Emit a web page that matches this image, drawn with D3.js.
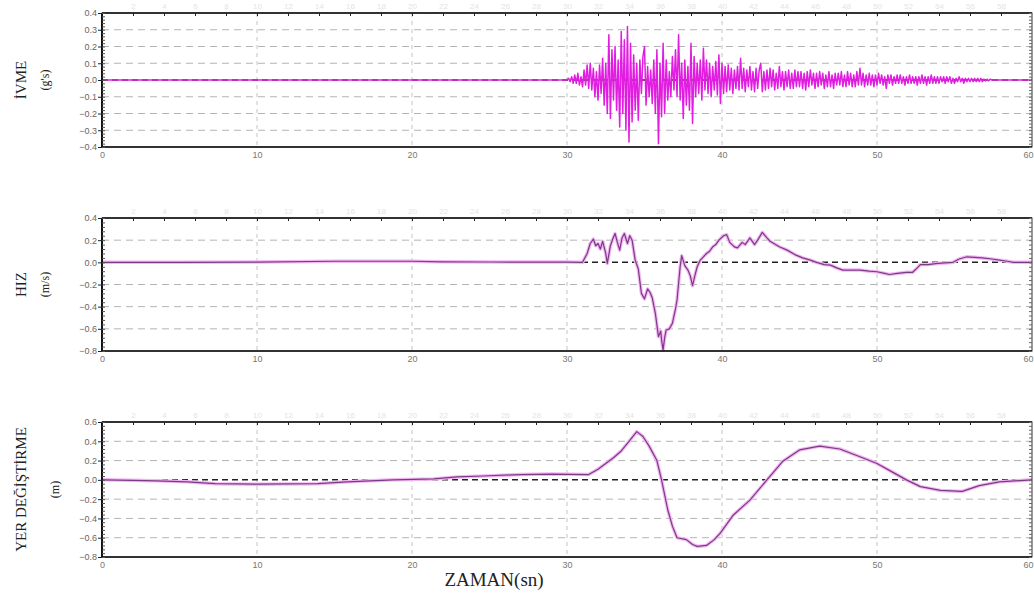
<!DOCTYPE html>
<html>
<head>
<meta charset="utf-8">
<script src="https://cdn.jsdelivr.net/npm/d3@7"></script>
<style>
  body { margin: 0; background: #fff; }
  svg { display: block; }
</style>
</head>
<body>
<svg width="1034" height="594"></svg>
<script>
// ---- data ----
// acceleration (g) sampled every 0.1 s starting at 30.0 s
const accStart = 30.0, accStep = 0.1;
const accValues = [
  0, 0.01, -0.01, 0.02, -0.02,   0.03, -0.02, 0.04, -0.03, 0.02,
  -0.04, 0.06, -0.03, 0.09, -0.05,   0.10, -0.06, 0.07, -0.10, 0.05,
  -0.12, 0.09, -0.08, 0.13, -0.15,   0.10, -0.20, 0.27, -0.23, 0.18,
  -0.12, 0.20, -0.18, 0.12, -0.28,   0.29, -0.20, 0.24, -0.30, 0.32,
  -0.37, 0.22, -0.25, 0.15, -0.18,   0.10, -0.24, 0.12, -0.08, 0.14,
  0.20, -0.15, 0.08, -0.10, 0.06,   -0.14, 0.12, -0.20, 0.18, -0.38,
  0.10, -0.22, 0.22, -0.20, 0.12,   -0.12, 0.05, -0.10, 0.14, -0.06,
  0.18, -0.10, 0.27, -0.12, 0.10,   -0.23, 0.12, -0.15, 0.08, -0.18,
  0.22, -0.26, 0.14, -0.10, 0.10,   -0.08, 0.12, -0.12, 0.19, -0.06,
  0.12, -0.08, 0.10, -0.10, 0.08,   -0.06, 0.11, -0.09, 0.15, -0.14,
  0.10, -0.08, 0.08, -0.07, 0.09,   -0.06, 0.07, -0.08, 0.06, -0.05,
  0.08, -0.06, 0.13, -0.05, 0.07,   -0.07, 0.06, -0.04, 0.08, -0.06,
  0.05, -0.07, 0.07, -0.05, 0.06,   0.10, -0.07, 0.05, -0.06, 0.06,
  -0.05, 0.07, -0.04, 0.06, -0.06,   0.04, -0.05, 0.08, -0.04, 0.05,
  -0.06, 0.05, -0.04, 0.06, -0.05,   0.04, -0.05, 0.06, -0.04, 0.05,
  -0.04, 0.05, -0.05, 0.04, -0.06,   0.05, -0.04, 0.06, -0.03, 0.04,
  -0.05, 0.04, -0.04, 0.05, -0.03,   0.04, -0.05, 0.03, -0.04, 0.05,
  -0.04, 0.03, -0.05, 0.04, -0.03,   0.04, -0.03, 0.05, -0.04, 0.03,
  -0.04, 0.05, -0.03, 0.04, -0.04,   0.03, -0.04, 0.05, -0.03, 0.07,
  -0.03, 0.04, -0.04, 0.03, -0.03,   0.04, -0.03, 0.03, -0.04, 0.03,
  -0.03, 0.04, -0.02, 0.03, -0.03,   0.02, -0.05, 0.03, -0.02, 0.03,
  -0.03, 0.02, -0.02, 0.03, -0.02,   0.03, -0.02, 0.02, -0.03, 0.02,
  -0.02, 0.03, -0.02, 0.02, -0.02,   0.02, -0.03, 0.02, -0.02, 0.03,
  -0.02, 0.02, -0.03, 0.02, -0.02,   0.03, -0.02, 0.02, -0.02, 0.02,
  -0.02, 0.02, -0.01, 0.02, -0.02,   0.02, -0.01, 0.02, -0.02, 0.01,
  -0.02, 0.01, -0.01, 0.02, -0.01,   0.01, -0.02, 0.01, -0.01, 0.01,
  -0.01, 0.01, -0.01, 0.01, -0.01,   0.01, -0.01, 0.01, -0.01, 0.005,
  -0.005, 0.005, -0.005, 0.005, 0,   0, 0, 0, 0
];

// velocity (m/s): [time, value]
const velPoints = [
  [0,0],[5,0],[10,0.002],[15,0.01],[20,0.01],[22,0.005],[25,0.003],[30,0.002],[31,0],
  [31.3,0.08],[31.5,0.17],[31.7,0.21],[31.85,0.15],[32,0.17],[32.15,0.12],[32.3,0.19],
  [32.5,0.08],[32.6,-0.01],[32.8,0.15],[32.95,0.21],[33.1,0.26],[33.25,0.18],[33.4,0.11],
  [33.55,0.22],[33.7,0.26],[33.9,0.17],[34.05,0.24],[34.2,0.2],[34.4,0.02],[34.6,-0.06],
  [34.8,-0.28],[35.0,-0.33],[35.2,-0.24],[35.35,-0.27],[35.5,-0.32],[35.7,-0.46],[35.9,-0.67],
  [36.05,-0.62],[36.1,-0.70],[36.2,-0.79],[36.3,-0.68],[36.4,-0.61],[36.6,-0.6],[36.8,-0.55],
  [37.0,-0.42],[37.1,-0.34],[37.3,-0.04],[37.4,0.06],[37.6,-0.03],[37.8,-0.07],[37.95,-0.12],
  [38.1,-0.21],[38.25,-0.12],[38.4,-0.04],[38.6,0.02],[38.8,0.05],[39,0.08],[39.2,0.1],
  [39.4,0.14],[39.6,0.16],[39.8,0.2],[40.1,0.24],[40.3,0.25],[40.5,0.18],[40.8,0.14],
  [41.0,0.13],[41.3,0.18],[41.5,0.16],[41.8,0.22],[42.1,0.16],[42.3,0.2],[42.6,0.27],
  [42.9,0.22],[43.1,0.19],[43.7,0.14],[44.2,0.11],[44.7,0.07],[45.2,0.04],[45.7,0.02],
  [46.1,0],[46.6,-0.02],[47.0,-0.025],[47.4,-0.05],[47.8,-0.07],[48.4,-0.07],[48.9,-0.07],
  [49.5,-0.08],[50,-0.085],[50.5,-0.1],[50.8,-0.11],[51.3,-0.1],[51.9,-0.09],[52.3,-0.09],
  [52.6,-0.05],[52.8,-0.02],[53.3,-0.02],[53.9,-0.01],[54.4,-0.005],[54.9,0],[55.3,0.03],
  [55.8,0.05],[56.3,0.045],[56.8,0.04],[57.4,0.03],[57.9,0.02],[58.4,0.01],[58.8,0],[60,0]
];

// displacement (m): [time, value]
const dispPoints = [
  [0,0],[2,-0.005],[3.5,-0.01],[5.5,-0.02],[7.3,-0.04],[10,-0.045],[13.9,-0.04],[15.8,-0.02],
  [18.8,0],[21.4,0.01],[22.9,0.03],[24.6,0.04],[27,0.055],[29,0.06],[31.4,0.055],[32,0.11],
  [32.5,0.17],[33,0.23],[33.5,0.3],[34,0.4],[34.5,0.5],[34.9,0.45],[35.3,0.35],[35.8,0.2],
  [36.1,0],[36.5,-0.31],[36.8,-0.48],[37.1,-0.6],[37.7,-0.62],[38.1,-0.67],[38.4,-0.69],
  [39,-0.68],[39.5,-0.62],[39.9,-0.55],[40.7,-0.37],[41.8,-0.21],[42.9,0],[43.9,0.19],
  [45,0.31],[46.3,0.35],[47.6,0.32],[48.9,0.24],[50,0.17],[51,0.08],[51.9,0],[52.8,-0.07],
  [54.1,-0.11],[55.5,-0.12],[56.6,-0.06],[57.9,-0.02],[60,0]
];

const xTicks   = [0, 10, 20, 30, 40, 50, 60];
const accTicks  = [-0.4, -0.3, -0.2, -0.1, 0.0, 0.1, 0.2, 0.3, 0.4];
const velTicks  = [-0.8, -0.6, -0.4, -0.2, 0.0, 0.2, 0.4];
const dispTicks = [-0.8, -0.6, -0.4, -0.2, 0.0, 0.2, 0.4, 0.6];

// acceleration as [t, a]; quiet before and after the strong motion
const accPoints = [[0, 0]].concat(
  accValues.map((v, i) => [accStart + i * accStep, v]),
  [[60, 0]]
);

const svg = d3.select("svg");
const x = d3.scaleLinear().domain([0, 60]).range([102, 1032]);

const panels = [
  { top: 13,  bottom: 147, ticks: accTicks,  minor: 0.02, title: "İVME", unit: "(g's)", unitX: 45,
    data: accPoints, fine: true },
  { top: 218, bottom: 351, ticks: velTicks,  minor: 0.04, title: "HIZ", unit: "(m/s)", unitX: 45,
    data: velPoints, fine: false },
  { top: 422, bottom: 557, ticks: dispTicks, minor: 0.04, title: "YER DEĞİŞTİRME", unit: "(m)", unitX: 55,
    data: dispPoints, fine: false }
];

panels.forEach(p => {
  const y = d3.scaleLinear().domain(d3.extent(p.ticks)).range([p.bottom, p.top]);
  const g = svg.append("g");
  const [x0, x1] = x.range();

  // horizontal dashed grid
  g.selectAll(".hgrid").data(p.ticks.filter(t => t !== 0 && t !== p.ticks[0] && t !== p.ticks[p.ticks.length - 1]))
    .enter().append("line")
    .attr("x1", x0).attr("x2", x1)
    .attr("y1", d => y(d)).attr("y2", d => y(d))
    .attr("stroke", "#b4b4b4").attr("stroke-width", 1).attr("stroke-dasharray", "7,5");

  // vertical dashed grid
  g.selectAll(".vgrid").data(xTicks.slice(1, -1))
    .enter().append("line")
    .attr("x1", d => x(d)).attr("x2", d => x(d))
    .attr("y1", p.top).attr("y2", p.bottom)
    .attr("stroke", "#c4c4c4").attr("stroke-width", 1).attr("stroke-dasharray", "4,4");

  // zero reference
  g.append("line")
    .attr("x1", x0).attr("x2", x1).attr("y1", y(0)).attr("y2", y(0))
    .attr("stroke", "#222").attr("stroke-width", 1.5).attr("stroke-dasharray", "6,4");

  // signal
  const line = d3.line().x(d => x(d[0])).y(d => y(d[1]));
  if (p.fine) {
    g.append("path").datum(p.data).attr("d", line)
      .attr("fill", "none").attr("stroke", "#e21de2").attr("stroke-width", 1.5)
      .attr("stroke-linejoin", "round");
  } else {
    g.append("path").datum(p.data).attr("d", line)
      .attr("fill", "none").attr("stroke", "#f2b6f2").attr("stroke-width", 3.5)
      .attr("stroke-linejoin", "round");
    g.append("path").datum(p.data).attr("d", line)
      .attr("fill", "none").attr("stroke", "#7c3a86").attr("stroke-width", 1.2)
      .attr("stroke-linejoin", "round");
  }

  // frame
  g.append("rect").attr("x", x0).attr("y", p.top)
    .attr("width", x1 - x0).attr("height", p.bottom - p.top)
    .attr("fill", "none").attr("stroke", "#333").attr("stroke-width", 1);
  g.append("line").attr("x1", x0).attr("x2", x0).attr("y1", p.top).attr("y2", p.bottom)
    .attr("stroke", "#111").attr("stroke-width", 2);
  g.append("line").attr("x1", x0).attr("x2", x1).attr("y1", p.bottom).attr("y2", p.bottom)
    .attr("stroke", "#111").attr("stroke-width", 1.5);
  g.append("line").attr("x1", x0).attr("x2", x1).attr("y1", p.top).attr("y2", p.top)
    .attr("stroke", "#111").attr("stroke-width", 1.5);

  // left axis: labels, major and minor ticks
  const minorTicks = d3.range(p.ticks[0], p.ticks[p.ticks.length - 1] + 1e-9, p.minor);
  g.append("g").attr("transform", `translate(${x0},0)`)
    .call(d3.axisLeft(y).tickValues(minorTicks).tickSize(-3).tickFormat(""))
    .call(a => a.select(".domain").remove())
    .call(a => a.selectAll("line").attr("stroke", "#555"));
  g.append("g").attr("transform", `translate(${x0},0)`)
    .call(d3.axisLeft(y).tickValues(p.ticks).tickSize(4).tickPadding(1).tickFormat(d3.format(".1f")))
    .call(a => a.select(".domain").remove())
    .call(a => a.selectAll("line").attr("stroke", "#222"))
    .call(a => a.selectAll("text").attr("fill", "#666")
      .style("font-family", "Liberation Sans, Arial, sans-serif").style("font-size", "9px"));

  // right edge minor ticks
  g.append("g").attr("transform", `translate(${x1},0)`)
    .call(d3.axisRight(y).tickValues(minorTicks).tickSize(-3).tickFormat(""))
    .call(a => a.select(".domain").remove())
    .call(a => a.selectAll("line").attr("stroke", "#666"));

  // bottom tick labels (last one pulled inside the page edge)
  g.append("g").attr("transform", `translate(0,${p.bottom})`)
    .call(d3.axisBottom(x).tickValues(xTicks).tickSize(0).tickPadding(5).tickFormat(d3.format("d")))
    .call(a => a.select(".domain").remove())
    .call(a => a.selectAll("text").attr("fill", "#777")
      .style("font-family", "Liberation Sans, Arial, sans-serif").style("font-size", "9px")
      .attr("text-anchor", d => d === 60 ? "end" : "middle")
      .attr("dx", d => d === 60 ? 1 : 0));

  // top ticks every 2 s with faint labels
  g.append("g").attr("transform", `translate(0,${p.top})`)
    .call(d3.axisTop(x).tickValues(d3.range(2, 60, 2)).tickSize(-3).tickPadding(4).tickFormat(d3.format("d")))
    .call(a => a.select(".domain").remove())
    .call(a => a.selectAll("line").attr("stroke", "#222"))
    .call(a => a.selectAll("text").attr("fill", "#e4e4e4")
      .style("font-family", "Liberation Sans, Arial, sans-serif").style("font-size", "8px"));

  // y titles
  const mid = (p.top + p.bottom) / 2;
  svg.append("text")
    .attr("transform", `translate(26,${mid}) rotate(-90)`)
    .attr("text-anchor", "middle")
    .style("font-family", "Liberation Serif, Times New Roman, serif")
    .style("font-size", "15px").attr("fill", "#222")
    .text(p.title);
  svg.append("text")
    .attr("transform", `translate(${p.unitX + 4},${mid}) rotate(-90)`)
    .attr("text-anchor", "middle")
    .style("font-family", "Liberation Serif, Times New Roman, serif")
    .style("font-size", "12px").attr("fill", "#222")
    .text(p.unit);
});

svg.append("text")
  .attr("x", 494).attr("y", 586)
  .attr("text-anchor", "middle")
  .style("font-family", "Liberation Serif, Times New Roman, serif")
  .style("font-size", "19px").attr("fill", "#222")
  .text("ZAMAN(sn)");
</script>
</body>
</html>
